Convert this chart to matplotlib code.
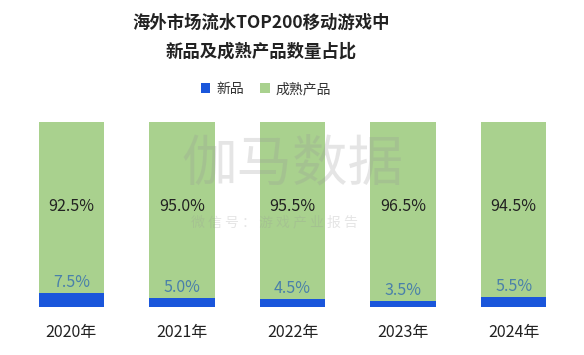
import matplotlib
matplotlib.use("Agg")
import matplotlib.pyplot as plt
from matplotlib.patches import Patch

plt.rcParams['font.family'] = ['Noto Sans CJK SC', 'DejaVu Sans']

years = ["2020年", "2021年", "2022年", "2023年", "2024年"]
new_share = [7.5, 5.0, 4.5, 3.5, 5.5]
mature_share = [92.5, 95.0, 95.5, 96.5, 94.5]
series_names = ["新品", "成熟产品"]

blue = "#1a56db"
green = "#a9d18e"

fig = plt.figure(figsize=(5.84, 3.55), dpi=100)
ax = fig.add_axes([16 / 584, 48 / 355, 553 / 584, 185 / 355])
x = list(range(len(years)))
w = 0.59
ax.bar(x, new_share, width=w, color=blue, edgecolor='none')
ax.bar(x, mature_share, width=w, bottom=new_share, color=green, edgecolor='none')

for i in x:
    ax.text(i, new_share[i] + 1.0, f"{new_share[i]:.1f}%", ha='center', va='bottom',
            fontsize=11.5, color="#4a80aa")
    ax.text(i, 54.5, f"{mature_share[i]:.1f}%", ha='center', va='center',
            fontsize=11.5, color="#222222")

ax.set_xlim(-0.5, 4.5)
ax.set_ylim(0, 100)
ax.set_xticks(x)
ax.set_xticklabels(years, fontsize=11.5, color="#222222")
ax.tick_params(axis='x', length=0, pad=12)
ax.set_yticks([])
for s in ax.spines.values():
    s.set_visible(False)

# watermark
fig.text(0.50, 1 - 165 / 355, "伽马数据", ha='center', va='center', fontsize=40,
         color="#999999", alpha=0.25)
fig.text(0.47, 1 - 222 / 355, "微 信 号 ： 游 戏 产 业 报 告", ha='center', va='center',
         fontsize=10, color="#999999", alpha=0.25)

fig.text(261 / 584, 1 - 23 / 355, "海外市场流水TOP200移动游戏中", ha='center', va='center',
         fontsize=12.5, fontweight='bold', color="#222222")
fig.text(261 / 584, 1 - 52 / 355, "新品及成熟产品数量占比", ha='center', va='center',
         fontsize=12.5, fontweight='bold', color="#222222")

handles = [Patch(facecolor=blue, edgecolor='none'), Patch(facecolor=green, edgecolor='none')]
fig.legend(handles, series_names, loc='center', bbox_to_anchor=(266 / 584, 1 - 89 / 355),
           ncol=2, frameon=False, fontsize=10, handlelength=0.7, handleheight=0.7,
           handletextpad=0.4, columnspacing=1.2, labelcolor="#333333")

fig.savefig("out.png", dpi=100, facecolor='white')
